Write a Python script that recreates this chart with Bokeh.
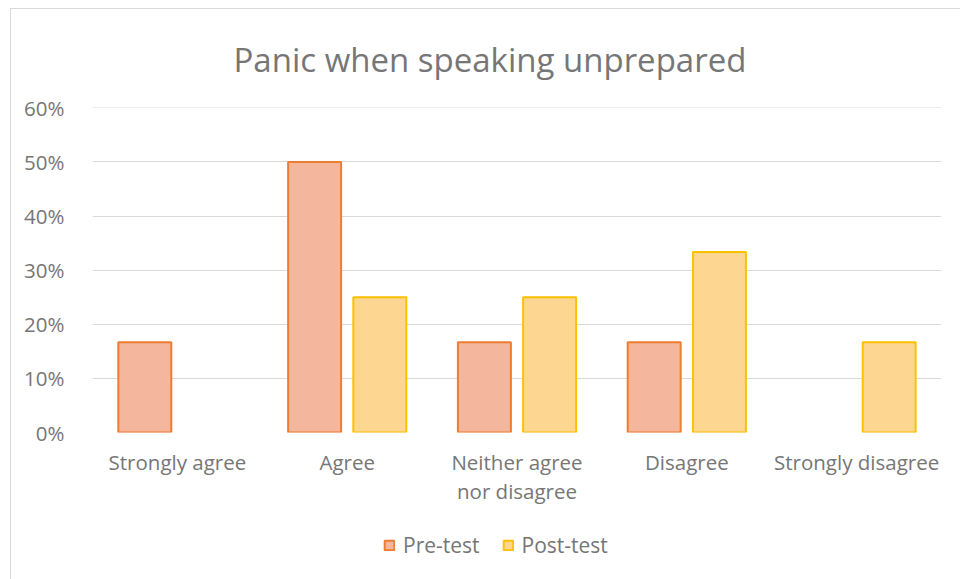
from bokeh.plotting import figure
from bokeh.models import FactorRange, Range1d, NumeralTickFormatter, Legend, LegendItem, ColumnDataSource, FixedTicker
from bokeh.transform import dodge
from bokeh.layouts import column
from bokeh.embed import file_html
from bokeh.resources import INLINE

categories = ["Strongly agree", "Agree", "Neither agree\nnor disagree", "Disagree", "Strongly disagree"]
pre_test = [0.1667, 0.50, 0.1667, 0.1667, 0.0]
post_test = [0.0, 0.25, 0.25, 0.3333, 0.1667]
y_ticks = [0.0, 0.1, 0.2, 0.3, 0.4, 0.5, 0.6]
series_names = ["Pre-test", "Post-test"]

src = ColumnDataSource(dict(
    cat=categories, pre=pre_test, post=post_test,
    pre_line=[0.0 if v == 0 else 1.0 for v in pre_test],
    post_line=[0.0 if v == 0 else 1.0 for v in post_test],
))

FONT = "Open Sans"
GRAY = "#767676"
PRE_FILL, PRE_LINE = "#F4B69C", "#ED7D31"
POST_FILL, POST_LINE = "#FDD792", "#FFC000"

p = figure(width=949, height=518, x_range=FactorRange(*categories), y_range=Range1d(0, 0.6005),
           output_backend="svg", toolbar_location=None,
           min_border_left=81, min_border_right=19, min_border_top=98, min_border_bottom=95)
p.outline_line_color = None

p.title.text = "Panic when speaking unprepared"
p.title.text_font = FONT
p.title.text_font_size = "33px"
p.title.text_font_style = "normal"
p.title.text_color = GRAY
p.title.align = "left"
p.title.offset = 141
p.title.standoff = 51

r1 = p.vbar(x=dodge("cat", -0.192, range=p.x_range), top="pre", width=0.312, source=src,
            fill_color=PRE_FILL, line_color=PRE_LINE, line_width=2, line_alpha="pre_line")
r2 = p.vbar(x=dodge("cat", 0.192, range=p.x_range), top="post", width=0.312, source=src,
            fill_color=POST_FILL, line_color=POST_LINE, line_width=2, line_alpha="post_line")

p.yaxis.ticker = FixedTicker(ticks=y_ticks)
p.yaxis.formatter = NumeralTickFormatter(format="0%")
for ax in (p.xaxis, p.yaxis):
    ax.axis_line_color = None
    ax.major_tick_line_color = None
    ax.minor_tick_line_color = None
    ax.major_label_text_font = FONT
    ax.major_label_text_font_size = "20.5px"
    ax.major_label_text_color = GRAY
p.yaxis.major_label_standoff = 22
p.xaxis.major_label_standoff = 9
p.xaxis.major_label_text_line_height = 1.05

p.xgrid.grid_line_color = None
p.ygrid.grid_line_color = "#D9D9D9"
p.ygrid.grid_line_width = 1
p.ygrid.ticker = FixedTicker(ticks=y_ticks)

# legend strip below the chart (its renderers are hidden; only the legend shows)
q = figure(width=949, height=52, x_range=FactorRange(*categories), y_range=Range1d(100, 101),
           output_backend="svg", toolbar_location=None,
           min_border_left=0, min_border_right=0, min_border_top=0, min_border_bottom=0)
q.axis.visible = False
q.grid.visible = False
q.outline_line_color = None
g1 = q.vbar(x=dodge("cat", -0.192, range=q.x_range), top="pre", width=0.312, source=src,
            fill_color=PRE_FILL, line_color=PRE_LINE, line_width=2)
g2 = q.vbar(x=dodge("cat", 0.192, range=q.x_range), top="post", width=0.312, source=src,
            fill_color=POST_FILL, line_color=POST_LINE, line_width=2)
g1.visible = False
g2.visible = False
legend = Legend(items=[LegendItem(label=series_names[0], renderers=[g1]),
                       LegendItem(label=series_names[1], renderers=[g2])],
                orientation="horizontal", location=(291, 20), border_line_color=None,
                background_fill_alpha=0, click_policy="none",
                label_text_font=FONT, label_text_font_size="21px", label_text_color=GRAY,
                glyph_width=12, glyph_height=12, spacing=22, label_standoff=8, margin=0, padding=4)
q.add_layout(legend)

layout = column(p, q, spacing=0)
layout.styles = {"margin-left": "10px", "margin-top": "8px",
                 "border-left": "1px solid #D9D9D9", "border-top": "1px solid #D9D9D9"}

open("out.html", "w").write(file_html(layout, INLINE))
